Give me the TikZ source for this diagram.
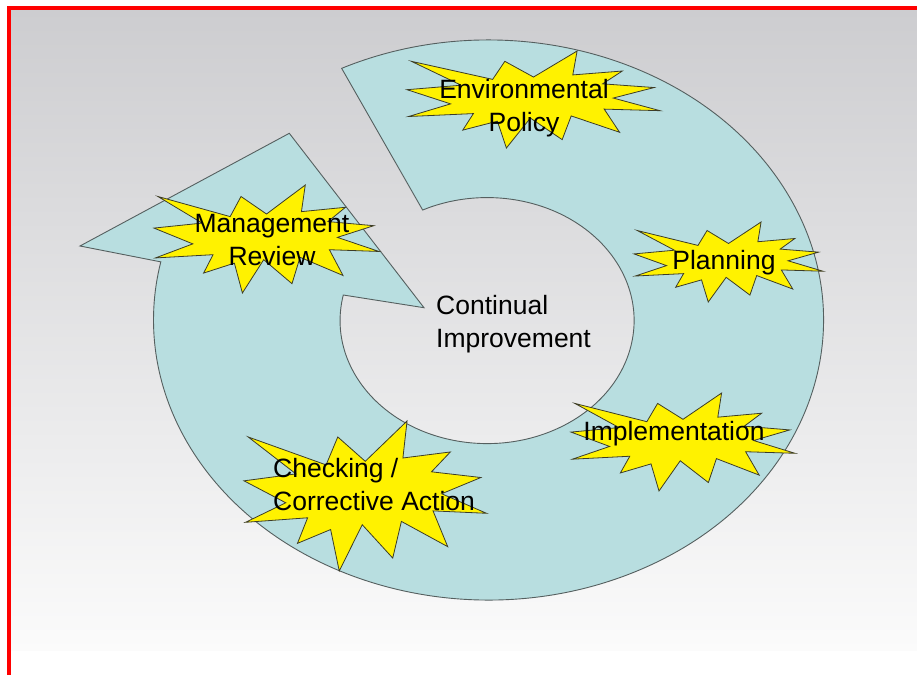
\documentclass[tikz,border=0pt]{standalone}
\usepackage{fontspec}
\setmainfont{Liberation Sans}
\usetikzlibrary{calc}

\definecolor{ringfill}{RGB}{184,222,224}
\definecolor{ringline}{RGB}{85,95,95}
\definecolor{bgtop}{RGB}{205,205,208}
\definecolor{bgbottom}{RGB}{251,251,251}
\definecolor{burstline}{RGB}{60,60,40}

\tikzset{
  ring/.style={fill=ringfill, draw=ringline, line width=0.9pt, line join=miter},
  burst/.style={fill=yellow, draw=burstline, line width=0.8pt, line join=miter},
  lbl/.style={inner sep=0pt, text=black, font=\fontsize{26.5}{33}\selectfont},
}

% explosion outline in a unit box, placed at (#1,#2) with width #3 and height #4
\newcommand\burstshape[4]{%
  \begin{scope}[shift={(#1,#2)}, xscale=#3, yscale=#4]
    \draw[burst] (0.5,0.26852) -- (0.67231,0) -- (0.65532,0.24653)
      -- (0.85093,0.20634) -- (0.77324,0.33866) -- (0.97671,0.37671)
      -- (0.81514,0.48495) -- (1,0.61528) -- (0.77949,0.59917)
      -- (0.84005,0.83773) -- (0.64907,0.66931) -- (0.61329,0.91375)
      -- (0.48759,0.69144) -- (0.39282,1) -- (0.35718,0.72347)
      -- (0.22046,0.81560) -- (0.26236,0.64523) -- (0.00625,0.67532)
      -- (0.17231,0.54514) -- (0,0.39884) -- (0.21421,0.35264)
      -- (0.01713,0.10625) -- (0.33852,0.29259) -- (0.38667,0.10625)
      -- cycle;
  \end{scope}}

\begin{document}
\begin{tikzpicture}[x=1pt, y=-1pt]
  \useasboundingbox (0,0) rectangle (917,675);

  % page background and frame
  \fill[white] (0,0) rectangle (917,675);
  \shade[top color=bgtop, bottom color=bgbottom] (10.7,10) rectangle (917,650);
  \fill[red] (6.7,6) rectangle (917,10);
  \fill[red] (6.7,6) rectangle (10.7,675);

  % circular arrow
  \coordinate (c) at (488.5,320);
  \coordinate (shaftout) at (160,261.7);
  \coordinate (barbout) at (80,246);
  \coordinate (tip) at (289.3,133.3);
  \coordinate (barbin) at (424,307.7);
  \coordinate (shaftin) at (343.3,295);
  \draw[ring] ($(c)+(-116:335 and 280)$)
      arc[start angle=-116, end angle=192, x radius=335, y radius=280]
      -- (shaftout) -- (barbout) -- (tip) -- (barbin) -- (shaftin)
      arc[start angle=192, end angle=-116, x radius=147, y radius=123]
      -- cycle;

  % explosions
  \burstshape{407}{51}{253}{97}
  \burstshape{154}{185}{225}{108}
  \burstshape{634}{222}{189}{80}
  \burstshape{571}{393}{224}{98}
  \burstshape{244}{421}{242.5}{150}

  % labels
  \node[lbl, align=center] (env) at (524,108.6) {Environmental\\Policy};
  \node[lbl, align=center] (mgmt) at (272,240) {Management\\Review};
  \node[lbl] (plan) at (724,263) {Planning};
  \node[lbl] (impl) at (674,434) {Implementation};
  \node[lbl, align=left, anchor=west] (check) at (273,484.3) {Checking /\\Corrective Action};
  \node[lbl, align=left, anchor=west] (ci) at (436,324.6) {Continual\\Improvement};
\end{tikzpicture}
\end{document}
